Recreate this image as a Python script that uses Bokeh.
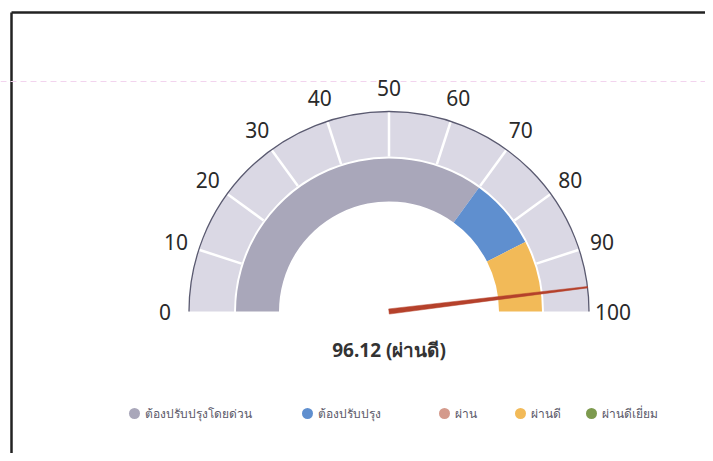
import math
from bokeh.plotting import figure
from bokeh.models import Range1d, ColumnDataSource
from bokeh.core.properties import value
from bokeh.embed import file_html
from bokeh.resources import INLINE

# ---------------- data ----------------
tick_values = [0, 10, 20, 30, 40, 50, 60, 70, 80, 90, 100]
tick_labels = ["0", "10", "20", "30", "40", "50", "60", "70", "80", "90", "100"]

band_names = ["ต้องปรับปรุงโดยด่วน", "ต้องปรับปรุง", "ผ่าน", "ผ่านดี", "ผ่านดีเยี่ยม"]
band_starts = [0, 70, 85, 85, 100]
band_ends = [70, 85, 85, 100, 100]
band_colors = ["#a9a7ba", "#5f8fcf", "#d49a8c", "#f2ba58", "#7d9a4e"]

gauge_value = 96.12
value_label = "96.12 (ผ่านดี)"

# ---------------- layout ----------------
W, H = 705, 453
cx, cy = 388.5, 142.0
R_OUT, R_OUT_IN = 200, 155
R_BAND_OUT, R_BAND_IN = 153, 110
R_LABEL = 224


def ang(v):
    return math.pi * (1 - v / 100.0)


p = figure(width=W, height=H, x_range=Range1d(0, W), y_range=Range1d(0, H),
           output_backend="svg", toolbar_location=None, min_border=0,
           background_fill_color="white", border_fill_color="white")
p.axis.visible = False
p.grid.visible = False
p.outline_line_color = None

# frame lines (scan border)
p.line(x=[11, W], y=[441, 441], line_color="#222222", line_width=2.5)
p.line(x=[11, 11], y=[441, 0], line_color="#222222", line_width=2.5)
# faint dashed line
p.line(x=[0, W], y=[372, 372], line_color="#f2d4ee", line_width=1, line_dash="6 4")

# outer gray band
p.annular_wedge(x=cx, y=cy, inner_radius=R_OUT_IN, outer_radius=R_OUT,
                start_angle=0, end_angle=math.pi, fill_color="#dad8e4", line_color=None)
p.arc(x=cx, y=cy, radius=R_OUT, start_angle=0, end_angle=math.pi,
      line_color="#5a5a70", line_width=1.3)

# tick separators
sep_vals = tick_values[1:-1]
p.segment(x0=[cx + R_OUT_IN * math.cos(ang(v)) for v in sep_vals],
          y0=[cy + R_OUT_IN * math.sin(ang(v)) for v in sep_vals],
          x1=[cx + (R_OUT - 1) * math.cos(ang(v)) for v in sep_vals],
          y1=[cy + (R_OUT - 1) * math.sin(ang(v)) for v in sep_vals],
          line_color="white", line_width=2.5)

# coloured bands (skip empty ones)
idx = [i for i in range(len(band_names)) if band_ends[i] > band_starts[i]]
bsrc = ColumnDataSource(dict(
    start=[ang(band_ends[i]) for i in idx],
    end=[ang(band_starts[i]) for i in idx],
    color=[band_colors[i] for i in idx]))
p.annular_wedge(x=cx, y=cy, inner_radius=R_BAND_IN, outer_radius=R_BAND_OUT,
                start_angle="start", end_angle="end", fill_color="color",
                line_color=None, source=bsrc)

# tick labels
p.text(x=[cx + R_LABEL * math.cos(ang(v)) for v in tick_values],
       y=[cy + R_LABEL * math.sin(ang(v)) for v in tick_values],
       text=tick_labels, text_align="center", text_baseline="middle",
       text_font=value("Noto Sans"), text_font_size="21px", text_color="#2a2a2a")

# needle
a = ang(gauge_value)
ux, uy = math.cos(a), math.sin(a)
nx, ny = -uy, ux
bw, tw = 2.6, 0.7
p.patch(x=[cx + nx * bw, cx + R_OUT * ux + nx * tw, cx + R_OUT * ux - nx * tw, cx - nx * bw],
        y=[cy + ny * bw, cy + R_OUT * uy + ny * tw, cy + R_OUT * uy - ny * tw, cy - ny * bw],
        fill_color="#b5412b", line_color="#b5412b", line_width=0.5)

# value label
p.text(x=[cx], y=[104], text=[value_label], text_align="center", text_baseline="middle",
       text_font=value("Noto Sans"), text_font_size="19px", text_font_style="bold",
       text_color="#333333")

# legend
leg_x = [134, 307, 444, 520, 591]
leg_y = 40
p.scatter(x=leg_x, y=[leg_y] * len(leg_x), marker="circle", size=11,
          fill_color=band_colors, line_color=None)
p.text(x=[x + 10 for x in leg_x], y=[leg_y] * len(leg_x), text=band_names,
       text_align="left", text_baseline="middle", text_font=value("Noto Sans"),
       text_font_size="12px", text_color="#5a5868")

open("out.html", "w").write(file_html(p, INLINE))
